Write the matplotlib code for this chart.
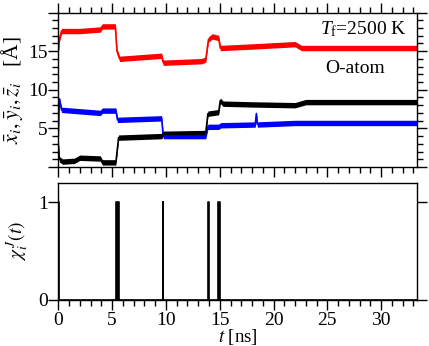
import numpy as np
import matplotlib
matplotlib.use("Agg")
import matplotlib.pyplot as plt
from matplotlib.ticker import MultipleLocator

plt.rcParams['font.family'] = ['Liberation Serif', 'DejaVu Serif']
plt.rcParams['mathtext.fontset'] = 'stix'
plt.rcParams['mathtext.rm'] = 'Liberation Serif'
plt.rcParams['mathtext.it'] = 'Liberation Serif:italic'
plt.rcParams['mathtext.bf'] = 'Liberation Serif:bold'

# ---- data ----
t_red = [0, 0.1, 0.3, 2.0, 3.9, 4.1, 5.3, 5.45, 5.7, 9.6, 9.75, 13.3, 13.7, 13.95, 14.3, 14.9, 15.05, 18.0, 22.0, 22.6, 27.0, 33.3]
red = [15.0, 16.5, 17.6, 17.6, 17.8, 18.2, 18.2, 15.0, 14.0, 14.4, 13.5, 13.7, 13.9, 16.5, 16.9, 16.7, 15.4, 15.6, 15.9, 15.4, 15.4, 15.4]

t_blue = [0, 0.1, 0.3, 3.9, 4.1, 5.35, 5.5, 9.6, 9.75, 13.7, 13.9, 14.9, 15.1, 18.3, 18.4, 18.5, 22.0, 33.3]
blue = [4.0, 8.8, 7.4, 7.0, 7.3, 7.3, 6.1, 6.3, 4.0, 4.0, 5.2, 5.2, 5.4, 5.5, 6.9, 5.5, 5.7, 5.7]

t_black = [0, 0.1, 0.4, 1.5, 2.0, 3.9, 4.1, 5.35, 5.6, 9.6, 9.75, 13.7, 13.9, 14.9, 15.05, 15.3, 18.0, 22.0, 23.0, 33.3]
black = [3.0, 1.0, 0.7, 0.8, 1.2, 1.1, 0.6, 0.6, 3.8, 4.0, 4.3, 4.4, 6.9, 7.1, 8.6, 8.2, 8.1, 8.0, 8.4, 8.4]

noise_half = 0.35  # half-width of the fluctuation band

chi_t = [0, 0.1, 5.35, 5.6, 9.72, 9.77, 13.92, 13.97, 14.85, 15.05, 33.3]
chi_v = [1, 0, 1, 0, 1, 0, 1, 0, 1, 0, 0]

xticks = [0, 5, 10, 15, 20, 25, 30]
yticks_top = [0, 5, 10, 15, 20]
yticklabels_top = ['', '5', '10', '15', '']

FS = 14

# ---- figure ----
fig = plt.figure(figsize=(4.29, 3.46), dpi=100)
W, H = 429, 346
L, R = 58.3 / W, 416.7 / W
ax1 = fig.add_axes([L, 1 - 167 / H, R - L, (167 - 12.5) / H])
ax2 = fig.add_axes([L, 1 - 300 / H, R - L, (300 - 182.7) / H])

for t, v, c in [(t_red, red, 'red'), (t_blue, blue, 'blue'), (t_black, black, 'black')]:
    t = np.asarray(t); v = np.asarray(v)
    ax1.fill_between(t, v - noise_half, v + noise_half, color=c, lw=0)
    ax1.plot(t, v, color=c, lw=1.2)

ax1.set_xlim(0, 33.3)
ax1.set_ylim(0, 20)
ax1.set_yticks(yticks_top)
ax1.set_yticklabels(yticklabels_top)
ax1.set_xticks(xticks)
ax1.xaxis.set_minor_locator(MultipleLocator(1))
ax1.yaxis.set_minor_locator(MultipleLocator(1))
ax1.tick_params(axis='x', which='both', direction='out', top=True, bottom=True, labelbottom=False)
ax1.tick_params(axis='y', which='both', direction='out', left=True, right=True)
ax1.set_ylabel(r'$\bar{x}_i, \bar{y}_i, \bar{z}_i$   [Å]', fontsize=15.5)
ax1.yaxis.set_label_coords(-0.094, 0.5)
ax1.text(0.73, 0.86, r'$T_{\mathrm{f}}$=$\mathit{2500}$ K', transform=ax1.transAxes,
         fontsize=FS, math_fontfamily='custom')
ax1.text(0.745, 0.61, 'O-atom', transform=ax1.transAxes, fontsize=FS)

ax2.plot(chi_t, chi_v, drawstyle='steps-post', color='black', lw=1.2)
ax2.fill_between(chi_t, 0, chi_v, step='post', color='black', lw=0)
ax2.set_xlim(0, 33.3)
ax2.set_ylim(0, 1.2)
ax2.set_yticks([0, 1])
ax2.set_xticks(xticks)
ax2.xaxis.set_minor_locator(MultipleLocator(1))
ax2.tick_params(axis='x', which='both', direction='out', top=False, bottom=True)
ax2.tick_params(axis='y', which='both', direction='out', left=True, right=True)
ax2.set_xlabel(r'$t$ [ns]', fontsize=13.5)
ax2.xaxis.set_label_coords(0.5, -0.232)
ax2.set_ylabel(r'$\chi_i^{\,J}(t)$', fontsize=FS)
ax2.yaxis.set_label_coords(-0.08, 0.5)

for ax in (ax1, ax2):
    ax.tick_params(which='major', length=7.2, width=1, labelsize=FS)
    ax.tick_params(which='minor', length=4.3, width=1)
    ax.tick_params(axis='y', pad=0.5)
    ax.tick_params(axis='x', pad=1.5)
    for s in ax.spines.values():
        s.set_linewidth(1)

fig.savefig('out.png', dpi=100)
